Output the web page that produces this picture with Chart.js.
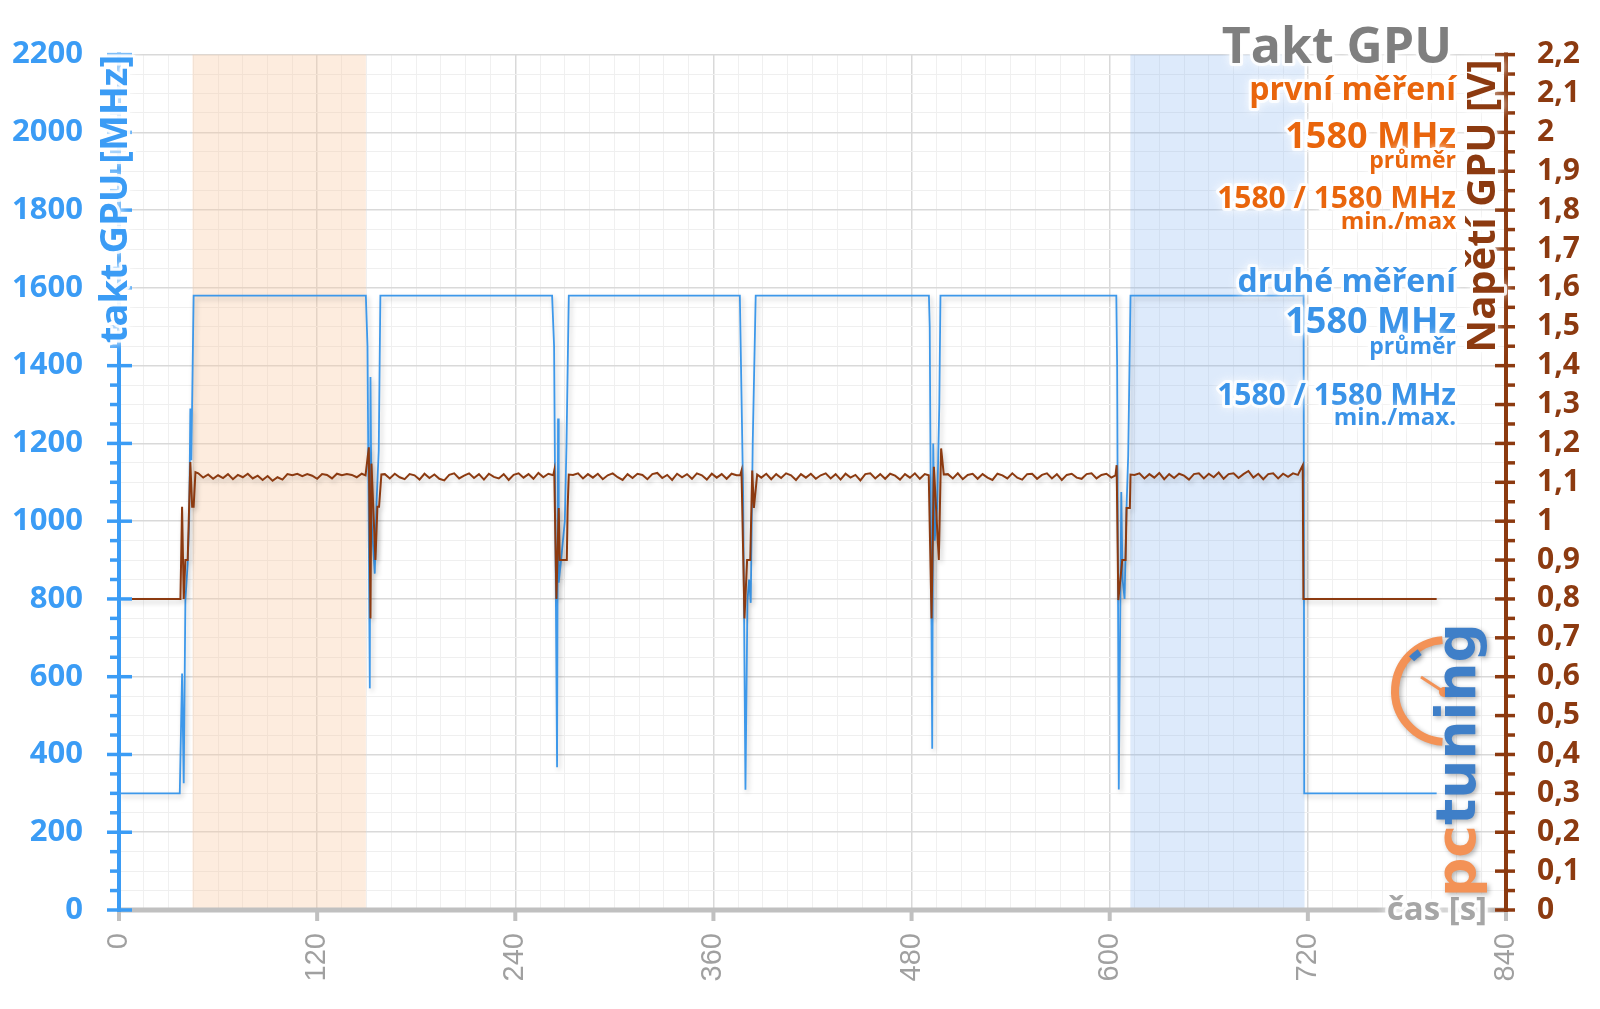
<!DOCTYPE html>
<html lang="cs">
<head>
<meta charset="UTF-8">
<title>Takt GPU</title>
<script src="https://cdn.jsdelivr.net/npm/chart.js"></script>
<style>
  html, body { margin: 0; padding: 0; background: #fff; }
  #wrap { width: 1600px; height: 1009px; }
</style>
</head>
<body>
<div id="wrap"><canvas id="gpuChart" width="1600" height="1009"></canvas></div>
<script>
// values
// GPU clock [MHz] over time [s]
const clockTime = [0, 36.8, 38.2, 39.2, 40.2, 41.6, 42.5, 43.2, 43.8, 45.2,
  149.5, 150.5, 151.9, 152.3, 153.0, 154.9, 156.0, 157.3, 158.3,
  262.3, 263.5, 265.3, 265.9, 266.3, 267.5, 270.0, 271.0, 272.4,
  376.0, 378.0, 379.4, 380.6, 381.6, 382.6, 383.8, 385.6,
  490.5, 491.0, 492.5, 493.1, 494.0, 495.5, 496.8, 497.5,
  604.0, 604.5, 605.5, 607.0, 607.8, 609.0, 610.2, 611.2, 612.6,
  717.4, 717.8, 798];
const clockMHz = [300, 300, 608, 326, 797, 891, 1000, 1290, 1157, 1580,
  1580, 1450, 570, 1371, 1000, 865, 1050, 1182, 1580,
  1580, 1450, 367, 1264, 842, 890, 1000, 1193, 1580,
  1580, 1067, 309, 795, 850, 790, 1201, 1580,
  1580, 1500, 415, 1200, 950, 1036, 1300, 1580,
  1580, 1400, 310, 1075, 850, 800, 1036, 1169, 1580,
  1580, 300, 300];

// GPU voltage [V] over time [s]
const voltTime = [0, 37.2, 38.2, 39.2, 40.2, 41.6, 43.2, 44.3, 45.2, 46.3,
  48, 51, 54, 57, 60, 63, 66, 69, 72, 75, 78, 81, 84, 87, 90, 93, 96, 99, 102, 105, 108, 111, 114, 117, 120, 123, 126, 129, 132, 135, 138, 141, 144, 147,
  149.3, 151.3, 152.3, 152.9, 155.3, 156.5, 157.5, 158.9,
  161, 164, 167, 170, 173, 176, 179, 182, 185, 188, 191, 194, 197, 200, 203, 206, 209, 212, 215, 218, 221, 224, 227, 230, 233, 236, 239, 242, 245, 248, 251, 254, 257, 260,
  263.0, 263.6, 264.9, 266.3, 266.9, 271.2, 271.7, 272.4,
  275, 278, 281, 284, 287, 290, 293, 296, 299, 302, 305, 308, 311, 314, 317, 320, 323, 326, 329, 332, 335, 338, 341, 344, 347, 350, 353, 356, 359, 362, 365, 368, 371, 374,
  376.2, 377.0, 378.8, 380.4, 382.3, 383.5, 384.5, 386.5,
  389, 392, 395, 398, 401, 404, 407, 410, 413, 416, 419, 422, 425, 428, 431, 434, 437, 440, 443, 446, 449, 452, 455, 458, 461, 464, 467, 470, 473, 476, 479, 482, 485, 488,
  490.4, 492.1, 493.5, 496.5, 497.9, 499.5,
  502, 505, 508, 511, 514, 517, 520, 523, 526, 529, 532, 535, 538, 541, 544, 547, 550, 553, 556, 559, 562, 565, 568, 571, 574, 577, 580, 583, 586, 589, 592, 595, 598, 601,
  603.5, 604.2, 605.2, 607.6, 609.6, 610.2, 612.2, 612.6,
  615, 618, 621, 624, 627, 630, 633, 636, 639, 642, 645, 648, 651, 654, 657, 660, 663, 666, 669, 672, 675, 678, 681, 684, 687, 690, 693, 696, 699, 702, 705, 708, 711, 714,
  716.9, 717.3, 798];
const voltV = [0.8, 0.8, 1.037, 0.8, 0.9, 0.9, 1.152, 1.037, 1.037, 1.126,
  1.123, 1.112, 1.120, 1.109, 1.118, 1.111, 1.121, 1.108, 1.119, 1.113, 1.122, 1.110, 1.117, 1.106, 1.116, 1.104, 1.113, 1.107, 1.121, 1.118, 1.122, 1.116, 1.121, 1.117, 1.109, 1.121, 1.119, 1.110, 1.122, 1.118, 1.121, 1.119, 1.113, 1.122,
  1.118, 1.19, 0.75, 1.148, 0.9, 1.037, 1.037, 1.12,
  1.121, 1.110, 1.122, 1.113, 1.108, 1.121, 1.118, 1.107, 1.122, 1.111, 1.120, 1.109, 1.105, 1.119, 1.123, 1.110, 1.117, 1.123, 1.111, 1.121, 1.107, 1.122, 1.114, 1.110, 1.121, 1.106, 1.119, 1.123, 1.112, 1.121, 1.109, 1.124, 1.113, 1.122,
  1.118, 1.13, 0.8, 1.034, 0.9, 0.9, 1.034, 1.12,
  1.119, 1.123, 1.110, 1.121, 1.112, 1.122, 1.108, 1.118, 1.123, 1.113, 1.106, 1.121, 1.111, 1.122, 1.119, 1.108, 1.121, 1.124, 1.111, 1.119, 1.106, 1.122, 1.113, 1.121, 1.109, 1.123, 1.118, 1.107, 1.122, 1.112, 1.121, 1.109, 1.122, 1.118,
  1.118, 1.13, 0.75, 0.9, 0.9, 1.13, 1.034, 1.12,
  1.112, 1.122, 1.108, 1.121, 1.111, 1.123, 1.118, 1.106, 1.121, 1.112, 1.122, 1.109, 1.118, 1.123, 1.110, 1.121, 1.107, 1.122, 1.112, 1.119, 1.105, 1.121, 1.123, 1.110, 1.121, 1.109, 1.122, 1.117, 1.107, 1.121, 1.112, 1.123, 1.109, 1.121,
  1.118, 0.75, 1.14, 0.9, 1.187, 1.12,
  1.121, 1.110, 1.123, 1.108, 1.119, 1.122, 1.109, 1.121, 1.112, 1.106, 1.122, 1.118, 1.110, 1.123, 1.112, 1.107, 1.121, 1.122, 1.109, 1.119, 1.123, 1.110, 1.121, 1.106, 1.119, 1.122, 1.112, 1.109, 1.121, 1.123, 1.110, 1.119, 1.122, 1.112,
  1.118, 1.144, 0.797, 0.9, 0.9, 1.034, 1.034, 1.12,
  1.119, 1.123, 1.110, 1.121, 1.112, 1.124, 1.108, 1.121, 1.111, 1.122, 1.117, 1.107, 1.121, 1.123, 1.110, 1.122, 1.113, 1.125, 1.109, 1.121, 1.123, 1.111, 1.121, 1.129, 1.112, 1.122, 1.108, 1.121, 1.123, 1.110, 1.122, 1.114, 1.123, 1.119,
  1.144, 0.8, 0.8];

// measured windows [s]
const firstRun = [44.5, 149.5];
const secondRun = [612.5, 718];

// summary numbers [MHz]
const firstAvg = 1580, firstMin = 1580, firstMax = 1580;
const secondAvg = 1580, secondMin = 1580, secondMax = 1580;

// labelled ticks
const timeTicks = [0, 120, 240, 360, 480, 600, 720, 840];
const clockTicks = [0, 200, 400, 600, 800, 1000, 1200, 1400, 1600, 1800, 2000, 2200];

const BLUE = '#3b9cf5';
const LINE_BLUE = '#3d98ea';
const BROWN = '#8c3a10';
const ORANGE = '#e9650c';
const TXT_BLUE = '#3a93e8';

function glowText(ctx, text, x, y, font, color, align) {
  ctx.save();
  ctx.font = font;
  ctx.textAlign = align || 'right';
  ctx.textBaseline = 'alphabetic';
  ctx.shadowColor = '#fff';
  ctx.shadowBlur = 8;
  ctx.strokeStyle = 'rgba(255,255,255,0.85)';
  ctx.lineWidth = 6;
  ctx.lineJoin = 'round';
  ctx.strokeText(text, x, y);
  ctx.shadowBlur = 0;
  ctx.fillStyle = color;
  ctx.fillText(text, x, y);
  ctx.restore();
}

function rotatedText(ctx, text, cx, cy, font, color) {
  ctx.save();
  ctx.translate(cx, cy);
  ctx.rotate(-Math.PI / 2);
  glowText(ctx, text, 0, 0, font, color, 'center');
  ctx.restore();
}

const deco = {
  id: 'deco',
  beforeDatasetsDraw(chart) {
    const {ctx, chartArea: a, scales: {x}} = chart;
    ctx.save();
    let x1 = x.getPixelForValue(firstRun[0]), x2 = x.getPixelForValue(firstRun[1]);
    ctx.fillStyle = 'rgba(250,200,160,0.35)';
    ctx.fillRect(x1, a.top, x2 - x1, a.bottom - a.top);
    x1 = x.getPixelForValue(secondRun[0]); x2 = x.getPixelForValue(secondRun[1]);
    ctx.fillStyle = 'rgba(120,170,240,0.25)';
    ctx.fillRect(x1, a.top, x2 - x1, a.bottom - a.top);
    ctx.restore();
  },
  beforeDatasetDraw(chart) {
    const ctx = chart.ctx;
    ctx.save();
    ctx.shadowColor = 'rgba(0,0,0,0.22)';
    ctx.shadowBlur = 5;
    ctx.shadowOffsetX = 2;
    ctx.shadowOffsetY = 3;
  },
  afterDatasetDraw(chart) {
    chart.ctx.restore();
  },
  afterDatasetsDraw(chart) {
    const {ctx, chartArea: a, scales: {x, yL}} = chart;
    ctx.save();
    ctx.lineCap = 'butt';

    // time axis
    ctx.strokeStyle = '#c0c0c0';
    ctx.lineWidth = 5;
    ctx.beginPath(); ctx.moveTo(a.left, a.bottom); ctx.lineTo(a.right, a.bottom); ctx.stroke();
    ctx.lineWidth = 4;
    timeTicks.forEach(t => {
      const px = x.getPixelForValue(t);
      ctx.beginPath(); ctx.moveTo(px, a.bottom); ctx.lineTo(px, a.bottom + 11); ctx.stroke();
    });

    // clock axis (left) and voltage axis (right)
    ctx.lineWidth = 4;
    ctx.strokeStyle = BLUE;
    ctx.beginPath(); ctx.moveTo(a.left, a.top - 2); ctx.lineTo(a.left, a.bottom + 2); ctx.stroke();
    ctx.strokeStyle = BROWN;
    ctx.beginPath(); ctx.moveTo(a.right, a.top - 2); ctx.lineTo(a.right, a.bottom + 2); ctx.stroke();
    ctx.lineWidth = 3.5;
    yL.ticks.forEach(t => {
      const py = yL.getPixelForValue(t.value);
      ctx.strokeStyle = BLUE;
      ctx.beginPath();
      if (t.value % 200 === 0) { ctx.moveTo(a.left - 12, py); ctx.lineTo(a.left + 13, py); }
      else { ctx.moveTo(a.left - 9, py); ctx.lineTo(a.left, py); }
      ctx.stroke();
      ctx.strokeStyle = BROWN;
      ctx.beginPath();
      if (t.value % 100 === 0) { ctx.moveTo(a.right - 11, py); ctx.lineTo(a.right + 9, py); }
      else { ctx.moveTo(a.right, py); ctx.lineTo(a.right + 9, py); }
      ctx.stroke();
    });

    // axis titles
    rotatedText(ctx, 'takt GPU [MHz]', 127, 199, 'bold 38px "Open Sans"', BLUE);
    rotatedText(ctx, 'Napětí GPU [V]', 1495, 206, 'bold 40px "Open Sans"', BROWN);
    glowText(ctx, 'čas [s]', 1487, 920, 'bold 33px "Open Sans"', '#a6a6a6', 'right');

    // title and summary
    const R = 1456;
    glowText(ctx, 'Takt GPU', 1452, 63, 'bold 50px "Open Sans"', '#7f7f7f');
    glowText(ctx, 'první měření', R, 100, 'bold 32px "Open Sans"', ORANGE);
    glowText(ctx, firstAvg + ' MHz', R, 148, 'bold 36px "Open Sans"', ORANGE);
    glowText(ctx, 'průměr', R, 168, 'bold 23px "Open Sans"', ORANGE);
    glowText(ctx, firstMin + ' / ' + firstMax + ' MHz', R, 208, 'bold 30px "Open Sans"', ORANGE);
    glowText(ctx, 'min./max', R, 229, 'bold 24px "Open Sans"', ORANGE);
    glowText(ctx, 'druhé měření', R, 292, 'bold 32px "Open Sans"', TXT_BLUE);
    glowText(ctx, secondAvg + ' MHz', R, 333, 'bold 36px "Open Sans"', TXT_BLUE);
    glowText(ctx, 'průměr', R, 354, 'bold 23px "Open Sans"', TXT_BLUE);
    glowText(ctx, secondMin + ' / ' + secondMax + ' MHz', R, 405, 'bold 30px "Open Sans"', TXT_BLUE);
    glowText(ctx, 'min./max.', R, 425, 'bold 24px "Open Sans"', TXT_BLUE);

    // pctuning watermark
    ctx.shadowColor = 'rgba(0,0,0,0.3)';
    ctx.shadowBlur = 5;
    ctx.shadowOffsetX = 2;
    ctx.shadowOffsetY = 2;
    const d = Math.PI / 180;
    ctx.strokeStyle = '#f39256';
    ctx.lineWidth = 8;
    ctx.beginPath(); ctx.arc(1446, 691, 51, 94 * d, 266 * d); ctx.stroke();
    ctx.strokeStyle = '#3f7fc8';
    ctx.lineWidth = 7;
    ctx.beginPath(); ctx.arc(1446, 691, 47, 223 * d, 236 * d); ctx.stroke();
    ctx.strokeStyle = '#f39256';
    ctx.lineWidth = 3;
    ctx.beginPath(); ctx.moveTo(1421, 677); ctx.lineTo(1444, 692); ctx.stroke();
    ctx.fillStyle = '#f39256';
    ctx.beginPath(); ctx.arc(1444, 692, 5, 0, 2 * Math.PI); ctx.fill();
    ctx.translate(1475, 897);
    ctx.rotate(-Math.PI / 2);
    ctx.font = 'bold 55px "DejaVu Sans"';
    ctx.textAlign = 'left';
    ctx.textBaseline = 'alphabetic';
    ctx.fillStyle = '#f39256';
    ctx.fillText('pc', 0, 0);
    const w = ctx.measureText('pc').width;
    ctx.fillStyle = '#3f7fc8';
    ctx.fillText('tuning', w, 0);
    ctx.restore();
  }
};

const clockData = clockTime.map((t, i) => ({x: t, y: clockMHz[i]}));
const voltData = voltTime.map((t, i) => ({x: t, y: voltV[i]}));

new Chart(document.getElementById('gpuChart').getContext('2d'), {
  type: 'line',
  data: {
    datasets: [{
      label: 'Napětí GPU',
      data: voltData,
      yAxisID: 'yR',
      borderColor: BROWN,
      borderWidth: 2,
      pointRadius: 0,
      tension: 0,
      order: 0
    }, {
      label: 'takt GPU',
      data: clockData,
      yAxisID: 'yL',
      borderColor: LINE_BLUE,
      borderWidth: 1.8,
      pointRadius: 0,
      tension: 0,
      order: 1
    }]
  },
  options: {
    responsive: false,
    devicePixelRatio: 1,
    animation: false,
    layout: { padding: { top: 54, left: 0, right: 0, bottom: 0 } },
    plugins: { legend: { display: false }, tooltip: { enabled: false } },
    scales: {
      x: {
        type: 'linear', min: 0, max: 840,
        ticks: {
          stepSize: 15, autoSkip: false, minRotation: 90, maxRotation: 90, padding: 23,
          color: '#a0a0a0', font: { family: 'Liberation Sans', size: 29 },
          callback: v => timeTicks.includes(v) ? String(v) : ''
        },
        grid: {
          drawTicks: false,
          color: c => (c.tick && c.tick.value % 120 === 0) ? '#d9d9d9' : '#f0f0f0',
          lineWidth: c => (c.tick && c.tick.value % 120 === 0) ? 1.5 : 1
        },
        border: { display: false },
        afterFit: s => { s.height = 99; }
      },
      yL: {
        type: 'linear', position: 'left', min: 0, max: 2200,
        ticks: {
          stepSize: 50, autoSkip: false, padding: 36, color: BLUE,
          font: { family: 'Open Sans', size: 31, weight: 'bold' },
          callback: v => clockTicks.includes(v) ? String(v) : ''
        },
        grid: {
          drawTicks: false,
          color: c => (c.tick && c.tick.value % 200 === 0) ? '#d9d9d9' : '#efefef',
          lineWidth: c => (c.tick && c.tick.value % 200 === 0) ? 1.5 : 1
        },
        border: { display: false },
        afterFit: s => { s.width = 119; }
      },
      yR: {
        type: 'linear', position: 'right', min: 0, max: 2.2,
        ticks: {
          stepSize: 0.1, autoSkip: false, padding: 31, color: BROWN,
          font: { family: 'Open Sans', size: 30, weight: 'bold' },
          callback: v => String(Math.round(v * 10) / 10).replace('.', ',')
        },
        grid: { display: false, drawTicks: false },
        border: { display: false },
        afterFit: s => { s.width = 94; }
      }
    }
  },
  plugins: [deco]
});
</script>
</body>
</html>
